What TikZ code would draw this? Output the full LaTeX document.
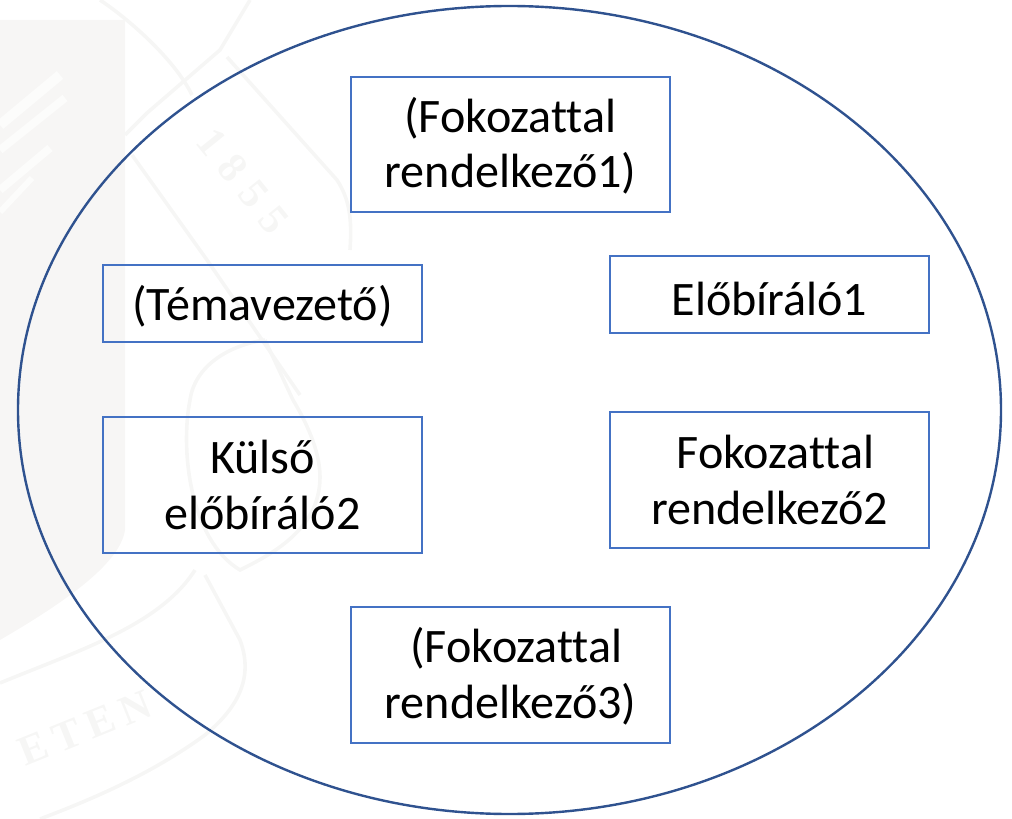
\documentclass[tikz,border=0pt]{standalone}
\usepackage{fontspec}
\setmainfont[Ligatures=NoCommon]{Carlito}
\newfontfamily\sealfont{Liberation Serif}
\definecolor{ovalblue}{HTML}{2F528F}
\definecolor{boxblue}{HTML}{4472C4}
\definecolor{markgrey}{HTML}{F6F6F5}
\definecolor{panelgrey}{HTML}{F7F6F5}
\definecolor{wingwhite}{HTML}{FCFCFB}
\tikzset{
	tagbox/.style={draw=boxblue, line width=0.04cm, inner sep=0pt, align=center, text=black,
		minimum width=7.975cm, font=\fontsize{34.2}{39.6}\selectfont},
	markline/.style={draw=markgrey, line width=0.09cm},
	marktext/.style={text=markgrey, font=\sealfont\bfseries\fontsize{30}{30}\selectfont}
}
\newcommand{\tagbox}[5] % name, x, y, height in px, text
{
	\node[tagbox, minimum height=#4*0.025cm] (#1) at (#2,#3) {#5};
}
\begin{document}
\begin{tikzpicture}[x=0.025cm, y=-0.025cm]
	% 1012px x 819px
	\useasboundingbox (0,0) rectangle (1012,819);
	% faint seal behind the oval
	\fill[panelgrey] (0,20) -- (125,20) -- (125,530) .. controls (120,565) and (60,605) .. (0,640) -- cycle;
	\draw[wingwhite, line width=0.25cm] (0,125) -- (60,75);
	\draw[wingwhite, line width=0.2cm] (0,150) -- (65,98);
	\draw[wingwhite, line width=0.2cm] (0,190) -- (50,148);
	\draw[wingwhite, line width=0.15cm] (0,212) -- (32,178);
	
	\draw[markline] (100,0) .. controls (130,20) and (175,60) .. (192,95);
	\draw[markline] (250,0) -- (220,50) -- (147,113) -- (125,135);
	\draw[markline] (132,155) -- (207,260) -- (300,395);
	\draw[markline] (227,57) -- (337,180) .. controls (350,200) and (352,220) .. (350,250);
	\draw[markline] (265,340) .. controls (230,345) and (195,365) .. (190,400) .. controls (180,450) and (190,540) .. (240,570) .. controls (270,555) and (320,530) .. (320,477) .. controls (320,450) and (305,420) .. (293,400) -- (265,340);
	\draw[markline] (0,683) .. controls (80,650) and (160,625) .. (195,570);
	\draw[markline] (205,575) -- (240,640) .. controls (255,680) and (235,710) .. (205,735) .. controls (150,775) and (90,800) .. (40,819);
	\node[marktext, rotate=-51] (year) at (243,181) {1\hspace{0.3cm}8\hspace{0.3cm}5\hspace{0.3cm}5};
	\node[marktext, rotate=22] (letters) at (85,728) {E\hspace{0.2cm}T\hspace{0.2cm}E\hspace{0.2cm}N};
	
	% oval
	\draw[draw=ovalblue, line width=0.06cm] (509.5,410) ellipse (491.5 and 404);
	
	\tagbox{topbox}{510.5}{144.5}{135}{\rule{0pt}{27pt}(Fokozattal\\rendelkező1)}
	\tagbox{supervisor}{262.5}{303.5}{77}{\rule{0pt}{29.5pt}(Témavezető)}
	\tagbox{reviewerone}{769.5}{294.5}{77}{\rule{0pt}{29.5pt}Előbíráló1}
	\tagbox{reviewertwo}{262.5}{485}{136}{Külső\\előbíráló2}
	\tagbox{midbox}{769.5}{480}{136}{\hspace*{0.3cm}Fokozattal\\rendelkező2}
	\tagbox{bottombox}{510.5}{675}{136}{\rule{0pt}{27pt}\hspace*{0.3cm}(Fokozattal\\rendelkező3)}
\end{tikzpicture}
\end{document}
